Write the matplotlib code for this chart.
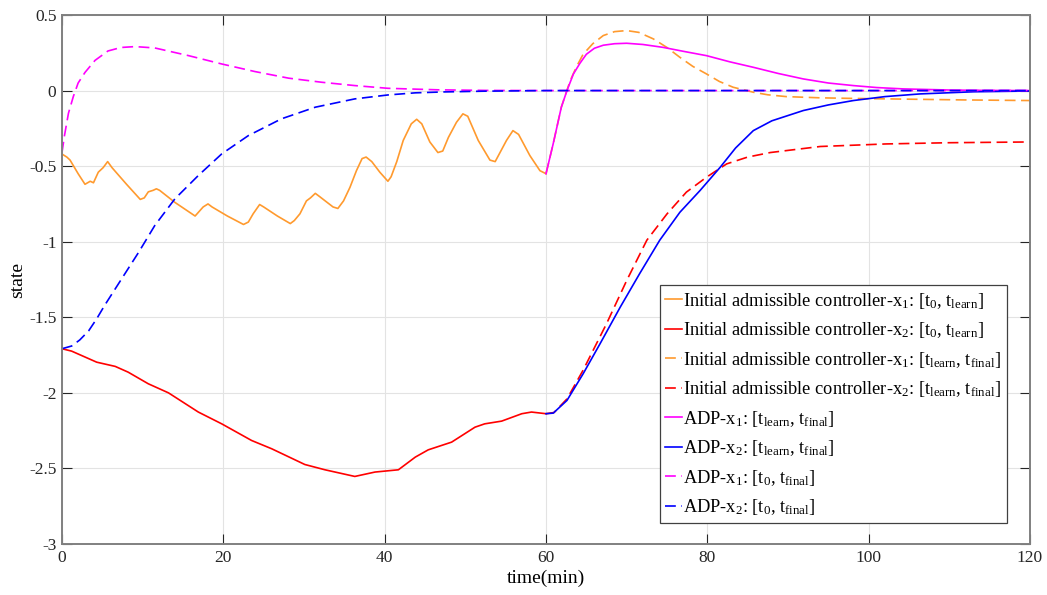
import matplotlib
matplotlib.use("Agg")
import matplotlib.pyplot as plt

plt.rcParams['font.family'] = ['Liberation Serif', 'DejaVu Serif']
plt.rcParams['mathtext.fontset'] = 'custom'
plt.rcParams['mathtext.rm'] = 'Liberation Serif'
plt.rcParams['mathtext.default'] = 'regular'

# initial admissible controller, x1, [t0, tlearn]
t_init_x1 = [0, 0.6, 1.0, 2.0, 2.85, 3.5, 3.9, 4.5, 5.1, 5.66, 6.2, 8.0, 9.7, 10.2, 10.7, 11.3,
             11.7, 12.1, 14.0, 16.5, 17.0, 17.5, 18.1, 18.6, 20.5, 22.5, 23.1, 23.7, 24.5, 25.0,
             26.7, 28.3, 28.8, 29.5, 30.3, 30.8, 31.4, 31.9, 33.6, 34.2, 34.9, 35.7, 36.5, 37.2,
             37.7, 38.4, 39.4, 40.4, 40.8, 41.5, 42.3, 43.3, 43.97, 44.6, 45.6, 46.6, 47.2, 47.9,
             48.9, 49.7, 50.3, 51.6, 53.05, 53.7, 54.3, 55.1, 55.9, 56.6, 58.0, 59.25, 60.0]
x1_init = [-0.42, -0.44, -0.46, -0.55, -0.62, -0.60, -0.61, -0.54, -0.51, -0.47, -0.51, -0.62,
           -0.72, -0.71, -0.67, -0.66, -0.65, -0.66, -0.74, -0.83, -0.80, -0.77, -0.75, -0.77,
           -0.83, -0.886, -0.87, -0.815, -0.754, -0.77, -0.83, -0.88, -0.86, -0.815, -0.73, -0.71,
           -0.68, -0.70, -0.77, -0.78, -0.73, -0.64, -0.53, -0.45, -0.44, -0.47, -0.54, -0.60,
           -0.57, -0.47, -0.33, -0.22, -0.19, -0.22, -0.34, -0.41, -0.40, -0.31, -0.21, -0.154,
           -0.17, -0.33, -0.46, -0.47, -0.41, -0.33, -0.265, -0.29, -0.43, -0.53, -0.55]

# initial admissible controller, x2, [t0, tlearn]
t_init_x2 = [0, 1.2, 4.3, 6.6, 8.2, 10.7, 13.2, 16.9, 19.8, 23.5, 26.0, 30.1, 32.6, 36.3, 38.8,
             41.7, 43.8, 45.4, 48.3, 51.2, 52.4, 54.5, 57.0, 58.2, 60.0]
x2_init = [-1.708, -1.724, -1.797, -1.825, -1.863, -1.94, -2.0, -2.127, -2.205, -2.315, -2.37,
           -2.474, -2.509, -2.553, -2.524, -2.509, -2.425, -2.377, -2.326, -2.227, -2.205,
           -2.187, -2.138, -2.127, -2.138]

# initial admissible controller, [tlearn, tfinal]
t_init_x1_b = [60, 60.9, 61.9, 63.0, 63.8, 64.6, 65.8, 67.1, 68.5, 70.0, 71.5, 73.3, 75.0, 76.6,
               78.2, 79.9, 81.5, 83.2, 85.7, 87.5, 89.8, 94.0, 98.1, 106.4, 112.0, 120.0]
x1_init_b = [-0.55, -0.35, -0.11, 0.066, 0.16, 0.24, 0.31, 0.364, 0.39, 0.397, 0.385, 0.342,
             0.285, 0.22, 0.16, 0.11, 0.06, 0.022, -0.011, -0.028, -0.04, -0.048, -0.052,
             -0.058, -0.062, -0.066]
t_init_x2_b = [60, 61.0, 62.6, 64.6, 67.5, 70.0, 72.5, 75.0, 77.4, 79.9, 82.4, 85.0, 87.8, 94.0,
               102.2, 110.0, 120.0]
x2_init_b = [-2.138, -2.13, -2.04, -1.85, -1.543, -1.257, -0.99, -0.816, -0.672, -0.573, -0.485,
             -0.44, -0.41, -0.37, -0.353, -0.345, -0.34]

# ADP, [tlearn, tfinal]
t_adp_x1 = [60, 60.9, 61.9, 62.6, 63.4, 64.2, 65.0, 66.0, 67.1, 68.5, 70.0, 72.0, 74.5, 77.0,
            79.9, 82.8, 85.7, 88.8, 91.9, 95.0, 98.1, 101.0, 104.3, 110.5, 115.0, 120.0]
x1_adp = [-0.55, -0.35, -0.11, 0.0, 0.11, 0.18, 0.24, 0.28, 0.30, 0.31, 0.313, 0.305, 0.286,
          0.26, 0.231, 0.19, 0.154, 0.113, 0.077, 0.05, 0.033, 0.02, 0.011, 0.003, 0.001, 0.0]
t_adp_x2 = [60, 60.9, 62.6, 64.6, 66.7, 69.2, 71.6, 74.1, 76.6, 79.1, 81.6, 83.5, 85.7, 88.0,
            91.9, 95.0, 98.1, 102.0, 106.4, 113.0, 120.0]
x2_adp = [-2.138, -2.134, -2.05, -1.874, -1.675, -1.433, -1.212, -0.99, -0.805, -0.661, -0.507,
          -0.38, -0.265, -0.2, -0.132, -0.095, -0.066, -0.04, -0.022, -0.008, -0.003]

# ADP, [t0, tfinal]
t_adp_x1_full = [0, 0.3, 0.8, 1.4, 2.0, 2.85, 4.1, 5.7, 7.3, 9.05, 11.5, 15.7, 19.8, 23.9, 28.1,
                 32.2, 36.3, 40.4, 46.6, 52.7, 60.0, 120.0]
x1_adp_full = [-0.41, -0.3, -0.15, -0.04, 0.05, 0.12, 0.2, 0.262, 0.285, 0.291, 0.282, 0.231,
               0.176, 0.126, 0.082, 0.055, 0.033, 0.015, 0.005, 0.001, 0.0, 0.0]
t_adp_x2_full = [0, 1.2, 2.2, 3.3, 4.3, 5.3, 7.4, 9.5, 11.5, 14.0, 16.9, 19.8, 23.1, 27.2, 31.4,
                 36.3, 40.4, 43.8, 47.3, 52.3, 60.0, 120.0]
x2_adp_full = [-1.708, -1.69, -1.65, -1.59, -1.51, -1.42, -1.245, -1.07, -0.893, -0.716, -0.562,
               -0.419, -0.298, -0.187, -0.11, -0.055, -0.029, -0.015, -0.009, -0.004, 0.0, 0.0]

orange = '#FF9A2E'
dash = (6.5, 3.3)
lw = 1.2

fig = plt.figure(figsize=(10.47, 5.95), dpi=100)
ax = fig.add_subplot(111)
fig.subplots_adjust(left=62/1047, right=1030/1047, bottom=1-544/595, top=1-15/595)

ax.plot(t_init_x1, x1_init, color=orange, lw=lw,
        label=r'Initial admissible controller-x$_1$: [t$_0$, t$_{learn}$]')
ax.plot(t_init_x2, x2_init, color='red', lw=lw,
        label=r'Initial admissible controller-x$_2$: [t$_0$, t$_{learn}$]')
ax.plot(t_init_x1_b, x1_init_b, color=orange, lw=lw, dashes=dash,
        label=r'Initial admissible controller-x$_1$: [t$_{learn}$, t$_{final}$]')
ax.plot(t_init_x2_b, x2_init_b, color='red', lw=lw, dashes=dash,
        label=r'Initial admissible controller-x$_2$: [t$_{learn}$, t$_{final}$]')
ax.plot(t_adp_x1, x1_adp, color='magenta', lw=lw,
        label=r'ADP-x$_1$: [t$_{learn}$, t$_{final}$]')
ax.plot(t_adp_x2, x2_adp, color='blue', lw=lw,
        label=r'ADP-x$_2$: [t$_{learn}$, t$_{final}$]')
ax.plot(t_adp_x1_full, x1_adp_full, color='magenta', lw=lw, dashes=dash,
        label=r'ADP-x$_1$: [t$_0$, t$_{final}$]')
ax.plot(t_adp_x2_full, x2_adp_full, color='blue', lw=lw, dashes=dash,
        label=r'ADP-x$_2$: [t$_0$, t$_{final}$]')

ax.set_xlim(0, 120)
ax.set_ylim(-3, 0.5)
ax.set_xticks([0, 20, 40, 60, 80, 100, 120])
ax.set_yticks([-3, -2.5, -2, -1.5, -1, -0.5, 0, 0.5])
ax.set_yticklabels(['-3', '-2.5', '-2', '-1.5', '-1', '-0.5', '0', '0.5'])
ax.grid(True, color='#e3e3e3', lw=0.8)
ax.set_axisbelow(True)
ax.tick_params(direction='in', top=True, right=True, length=7, width=0.8,
               labelsize=12.5, colors='#262626', pad=4)
for s in ax.spines.values():
    s.set_color('#808080')
    s.set_linewidth(1.4)
ax.set_xlabel('time(min)', fontsize=14, labelpad=3)
ax.set_ylabel('state', fontsize=14, labelpad=2)

leg = ax.legend(loc='lower right', bbox_to_anchor=(0.976, 0.040), borderaxespad=0,
                fontsize=13.2, handlelength=0.9, handletextpad=0.08, labelspacing=0.52,
                fancybox=False, framealpha=1, edgecolor='#404040', borderpad=0.3)
leg.get_frame().set_linewidth(0.9)

fig.savefig('out.png', dpi=100)
